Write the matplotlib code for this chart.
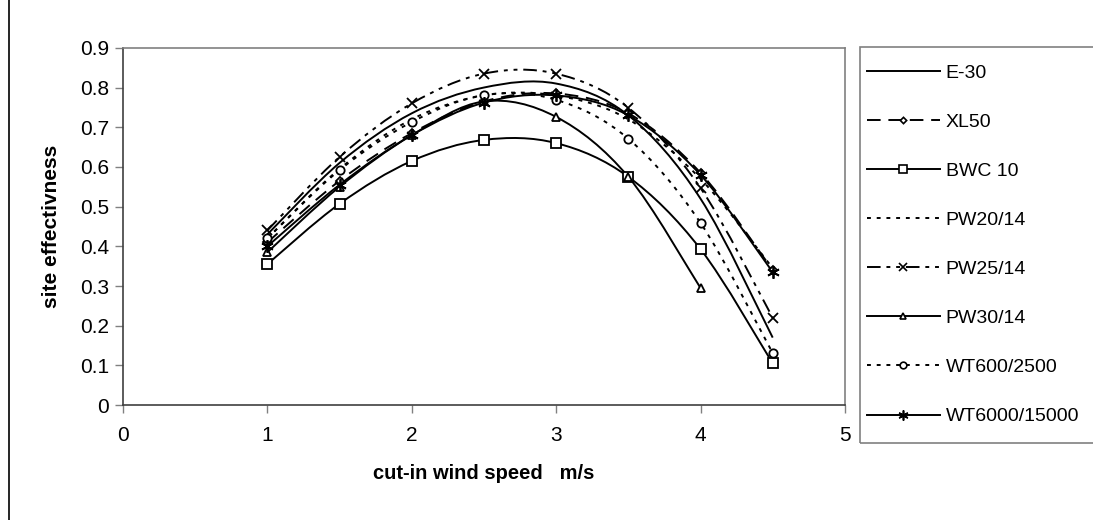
import matplotlib
matplotlib.use("Agg")
import matplotlib.pyplot as plt
from matplotlib.path import Path
from matplotlib.patches import PathPatch, Rectangle
from matplotlib.lines import Line2D
import numpy as np

plt.rcParams['font.family'] = ['Liberation Sans', 'DejaVu Sans']

## data
speed = [1, 1.5, 2, 2.5, 3, 3.5, 4, 4.5]
e30 = [0.43, 0.61, 0.735, 0.80, 0.81, 0.73, 0.52, 0.17]
xl50 = [0.41, 0.565, 0.685, 0.765, 0.785, 0.735, 0.585, 0.34]
bwc10 = [0.355, 0.507, 0.615, 0.668, 0.66, 0.575, 0.393, 0.105]
pw20 = [0.42, 0.595, 0.72, 0.78, 0.78, 0.72, 0.57, 0.345]
pw25 = [0.44, 0.625, 0.76, 0.835, 0.835, 0.749, 0.547, 0.22]
pw30 = [0.385, 0.55, 0.68, 0.765, 0.726, 0.575, 0.295]
wt600 = [0.42, 0.592, 0.713, 0.781, 0.769, 0.671, 0.459, 0.131]
wt6000 = [0.40, 0.555, 0.68, 0.762, 0.78, 0.73, 0.58, 0.335]

names = ["E-30", "XL50", "BWC 10", "PW20/14", "PW25/14", "PW30/14", "WT600/2500", "WT6000/15000"]
series = [e30, xl50, bwc10, pw20, pw25, pw30, wt600, wt6000]

asterisk = (6, 2, 0)
styles = [
    dict(ls='-', marker=None, ms=0),
    dict(ls=(0, (7, 4)), marker='D', ms=4),
    dict(ls='-', marker='s', ms=7),
    dict(ls=(0, (2, 3)), marker=None, ms=0),
    dict(ls=(0, (7, 3, 2, 3, 2, 3)), marker='x', ms=7),
    dict(ls='-', marker='^', ms=6),
    dict(ls=(0, (2, 3)), marker='o', ms=6),
    dict(ls='-', marker=asterisk, ms=9),
]


def smooth_path(xs, ys):
    # excel style smoothed line: bezier segments through the points
    pts = np.column_stack([xs, ys])
    n = len(pts)
    verts = [pts[0]]
    codes = [Path.MOVETO]
    for i in range(n - 1):
        p0 = pts[i - 1] if i > 0 else pts[i]
        p1 = pts[i]
        p2 = pts[i + 1]
        p3 = pts[i + 2] if i + 2 < n else pts[i + 1]
        c1 = p1 + (p2 - p0) / 6.0
        c2 = p2 - (p3 - p1) / 6.0
        verts += [c1, c2, p2]
        codes += [Path.CURVE4] * 3
    return Path(verts, codes)


fig = plt.figure(figsize=(10.93, 5.2), dpi=100)
ax = fig.add_axes([0.1125, 0.221, 0.6605, 0.687])

handles = []
for name, ys, st in zip(names, series, styles):
    xs = speed[:len(ys)]
    patch = PathPatch(smooth_path(xs, ys), fill=False, edgecolor='black',
                      lw=1.4, linestyle=st['ls'], zorder=2)
    ax.add_patch(patch)
    if st['marker'] is not None:
        ax.plot(xs, ys, ls='none', marker=st['marker'], ms=st['ms'],
                mfc='white', mec='black', mew=1.3, zorder=3)
    handles.append(Line2D([], [], color='black', lw=1.4, ls=st['ls'],
                          marker=st['marker'], ms=st['ms'] * 0.8,
                          mfc='white', mec='black', mew=1.2))

ax.set_xlim(0, 5)
ax.set_ylim(0, 0.9)
ax.set_xticks(range(0, 6))
ax.set_yticks(np.arange(0, 0.91, 0.1))
ax.set_yticklabels(["0", "0.1", "0.2", "0.3", "0.4", "0.5", "0.6", "0.7", "0.8", "0.9"])
ax.tick_params(labelsize=15, length=6, width=1, color='#808080', direction='out', pad=4)
ax.tick_params(axis='x', pad=9)
for s in ax.spines.values():
    s.set_color('#808080')
    s.set_linewidth(1.2)
ax.spines['left'].set_color('#404040')
ax.spines['bottom'].set_color('#404040')

ax.set_xlabel("cut-in wind speed   m/s", fontsize=14.5, fontweight='bold', labelpad=14)
ax.set_ylabel("site effectivness", fontsize=15, fontweight='bold', labelpad=14)

# legend box drawn by hand, entries placed inside it
fig.add_artist(Rectangle((860 / 1093, 1 - 443 / 520), 240 / 1093, 396 / 520,
                         transform=fig.transFigure, fill=False,
                         edgecolor='#808080', lw=1.2))
leg = fig.legend(handles, names, loc='upper left', bbox_to_anchor=(867 / 1093, 1 - 64 / 520),
                 fontsize=14, handlelength=3.75, handletextpad=0.3,
                 labelspacing=1.62, borderpad=0, numpoints=1, frameon=False,
                 borderaxespad=0)

fig.add_artist(Line2D([0.008, 0.008], [0.0, 1.0], color='black', lw=1.2))

fig.savefig("out.png", dpi=100)
